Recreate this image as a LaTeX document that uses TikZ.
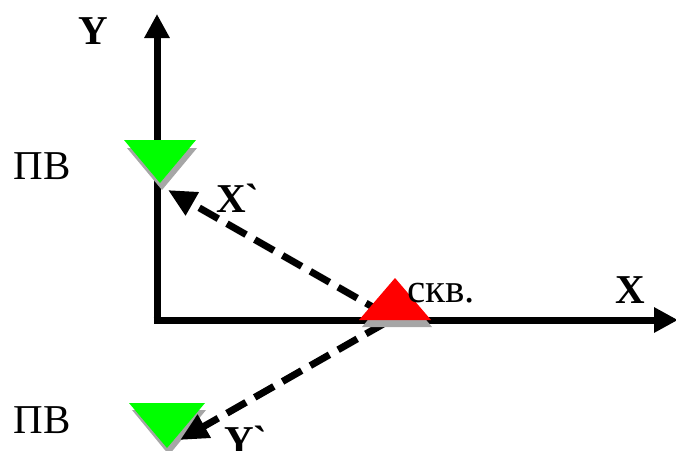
\documentclass[tikz,border=0pt]{standalone}
\usepackage{fontspec}
\setmainfont{Liberation Serif}[Ligatures=TeXOff]
\usetikzlibrary{arrows.meta,calc}

\begin{document}
\begin{tikzpicture}[x=1pt, y=-1pt,
  axis/.style={line width=7pt, -{Triangle[length=24pt,width=24pt]}},
  ray/.style={line width=7pt, dash pattern=on 22pt off 10pt,
              -{Triangle[length=28pt,width=25pt]}},
  lbl/.style={inner sep=0pt, anchor=base, font=\fontsize{41}{43}\selectfont},
  blbl/.style={inner sep=0pt, anchor=base, font=\fontsize{41}{43}\selectfont\bfseries},
  shade/.style={fill=black!35},
]
  \useasboundingbox (0,0) rectangle (676,450);

  % axes
  \coordinate (O)    at (157,320);
  \coordinate (ytip) at (157,14);
  \coordinate (xtip) at (678,320);
  \draw[axis] ($(O)+(0,3.5)$) -- (ytip);
  \draw[axis] ($(O)+(-3.5,0)$) -- (xtip);

  % observation wells (green), well (red)
  \coordinate (pvtop) at (160,183);
  \coordinate (pvbot) at (167,448);
  \coordinate (skv)   at (395,278);
  \fill[shade] ($(pvtop)+(2,7)$) -- +(-35,-42) -- +(35,-42) -- cycle;
  \fill[green] (pvtop) -- +(-36,-43) -- +(36,-43) -- cycle;
  \fill[shade] ($(pvbot)+(2,7)$) -- +(-37,-45) -- +(37,-45) -- cycle;
  \fill[green] (pvbot) -- +(-38,-45) -- +(38,-45) -- cycle;

  % rays
  \coordinate (rayx) at (385,314);
  \coordinate (rayy) at (385,323);
  \coordinate (endx) at (168,190);
  \coordinate (endy) at (180,440);
  \draw[ray] (rayx) -- (endx);
  \draw[ray] (rayy) -- (endy);

  \fill[shade] ($(skv)+(2,7)$) -- +(-35,42) -- +(35,42) -- cycle;
  \fill[red] (skv) -- +(-36,42) -- +(36,42) -- cycle;

  % labels
  \node[blbl] (ylab)  at (93,44)   {Y};
  \node[blbl] (xlab)  at (630,303) {X};
  \node[lbl]  (pv1)   at (42,179)  {ПВ};
  \node[lbl]  (pv2)   at (42,433)  {ПВ};
  \node[lbl]  (skvl)  at (441,302) {скв.};
  \node[blbl, anchor=base west] (xprime) at (216,212) {X`};
  \node[blbl, anchor=base west] (yprime) at (224,454) {Y`};
\end{tikzpicture}
\end{document}
